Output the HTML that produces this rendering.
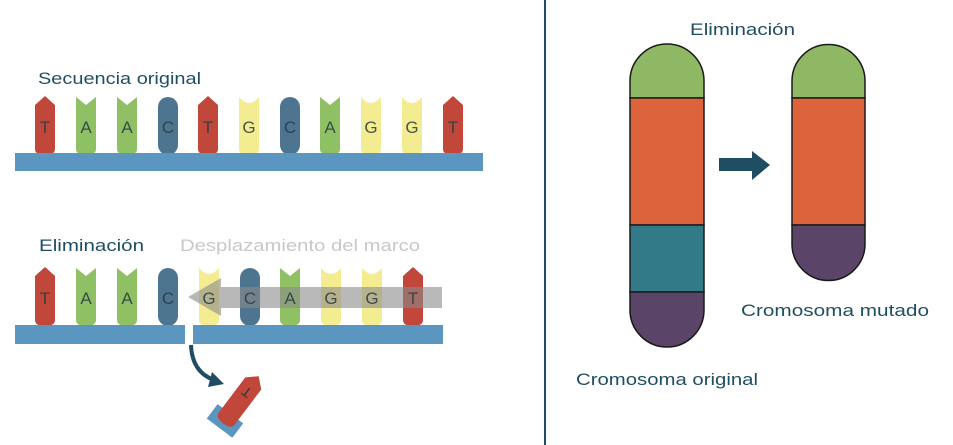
<!DOCTYPE html>
<html><head><meta charset="utf-8"><style>
html,body{margin:0;padding:0;background:#fff;}
svg{display:block;}
text{font-family:"Liberation Sans",sans-serif;}
</style></head><body>
<svg width="953" height="445" viewBox="0 0 953 445" xmlns="http://www.w3.org/2000/svg">
<defs>
<path id="bT" d="M-10,8 L0,-1 L10,8 V52 Q10,58 0,58 Q-10,58 -10,52 Z" fill="#c0473a"/>
<path id="bA" d="M-10,0 L0,8 L10,0 V52 Q10,58 0,58 Q-10,58 -10,52 Z" fill="#8fc064"/>
<rect id="bC" x="-10" y="0" width="20" height="58" rx="10" fill="#4e7590"/>
<path id="bG" d="M-10,0 Q0,12 10,0 V52 Q10,58 0,58 Q-10,58 -10,52 Z" fill="#f4ec90"/>
</defs>
<!-- top -->
<text x="38" y="84" font-size="17" fill="#1f4e63" textLength="163" lengthAdjust="spacingAndGlyphs">Secuencia original</text>
<g transform="translate(0,97)">
<use href="#bT" x="45"/><use href="#bA" x="86"/><use href="#bA" x="127"/><use href="#bC" x="168"/><use href="#bT" x="208"/><use href="#bG" x="249"/><use href="#bC" x="290"/><use href="#bA" x="330"/><use href="#bG" x="371"/><use href="#bG" x="412"/><use href="#bT" x="453"/>
</g>
<rect x="15" y="153" width="468" height="18" fill="#5a96c0"/>
<g font-size="17" fill="#2a3a40" text-anchor="middle" opacity="0.85">
<text x="45" y="133">T</text><text x="86" y="133">A</text><text x="127" y="133">A</text><text x="168" y="133">C</text><text x="208" y="133">T</text><text x="249" y="133">G</text><text x="290" y="133">C</text><text x="330" y="133">A</text><text x="371" y="133">G</text><text x="412" y="133">G</text><text x="453" y="133">T</text>
</g>
<!-- bottom -->
<text x="39" y="251" font-size="17" fill="#1f4e63" textLength="105" lengthAdjust="spacingAndGlyphs">Eliminación</text>
<text x="180" y="251" font-size="17" fill="#c8c8c8" textLength="240" lengthAdjust="spacingAndGlyphs">Desplazamiento del marco</text>
<g transform="translate(0,268)">
<use href="#bT" x="45"/><use href="#bA" x="86"/><use href="#bA" x="127"/><use href="#bC" x="168"/><use href="#bG" x="209"/><use href="#bC" x="250"/><use href="#bA" x="290"/><use href="#bG" x="331"/><use href="#bG" x="372"/><use href="#bT" x="413"/>
</g>
<rect x="15" y="325" width="170" height="19" fill="#5a96c0"/>
<rect x="193" y="325" width="250" height="19" fill="#5a96c0"/>
<g fill="#8a8a8a" opacity="0.6">
<rect x="221" y="287" width="221" height="21"/>
<polygon points="188,297 221,278 221,316"/>
</g>
<g font-size="17" fill="#2a3a40" text-anchor="middle" opacity="0.85">
<text x="45" y="304">T</text><text x="86" y="304">A</text><text x="127" y="304">A</text><text x="168" y="304">C</text><text x="209" y="304">G</text><text x="250" y="304">C</text><text x="290" y="304">A</text><text x="331" y="304">G</text><text x="372" y="304">G</text><text x="413" y="304">T</text>
</g>
<path d="M191,345 Q192,372 214,380" stroke="#1f4e63" stroke-width="4" fill="none"/>
<polygon points="212,372 224,384 208,387" fill="#1f4e63"/>
<g transform="translate(240,401) rotate(37)">
<rect x="-16" y="16" width="32" height="18" fill="#5a96c0"/>
<path d="M-10,-22 L0,-31 L10,-22 V22 Q10,28 0,28 Q-10,28 -10,22 Z" fill="#c0473a"/>
<text x="0" y="-6" font-size="14" fill="#2a3a40" text-anchor="middle" transform="rotate(180 0 -11)">T</text>
</g>
<!-- divider -->
<rect x="544" y="0" width="2" height="445" fill="#1f4e63"/>
<!-- chromosomes -->
<text x="690" y="35" font-size="17" fill="#1f4e63" textLength="105" lengthAdjust="spacingAndGlyphs">Eliminación</text>
<g stroke="#1a1a1a" stroke-width="1.5">
<path d="M630,98 V81 A37,37 0 0 1 704,81 V98 Z" fill="#8fb865"/>
<rect x="630" y="98" width="74" height="127" fill="#dd643a"/>
<rect x="630" y="225" width="74" height="67" fill="#327a88"/>
<path d="M630,292 H704 V310 A37,37 0 0 1 630,310 Z" fill="#5a4468"/>
<path d="M792,98 V81 A36.5,36.5 0 0 1 865,81 V98 Z" fill="#8fb865"/>
<rect x="792" y="98" width="73" height="127" fill="#dd643a"/>
<path d="M792,225 H865 V244 A36.5,36.5 0 0 1 792,244 Z" fill="#5a4468"/>
</g>
<rect x="719" y="158" width="34" height="13" fill="#1f4e63"/>
<polygon points="752,151 770,165 752,180" fill="#1f4e63"/>
<text x="741" y="316" font-size="17" fill="#1f4e63" textLength="188" lengthAdjust="spacingAndGlyphs">Cromosoma mutado</text>
<text x="576" y="385" font-size="17" fill="#1f4e63" textLength="182" lengthAdjust="spacingAndGlyphs">Cromosoma original</text>
</svg>
</body></html>
